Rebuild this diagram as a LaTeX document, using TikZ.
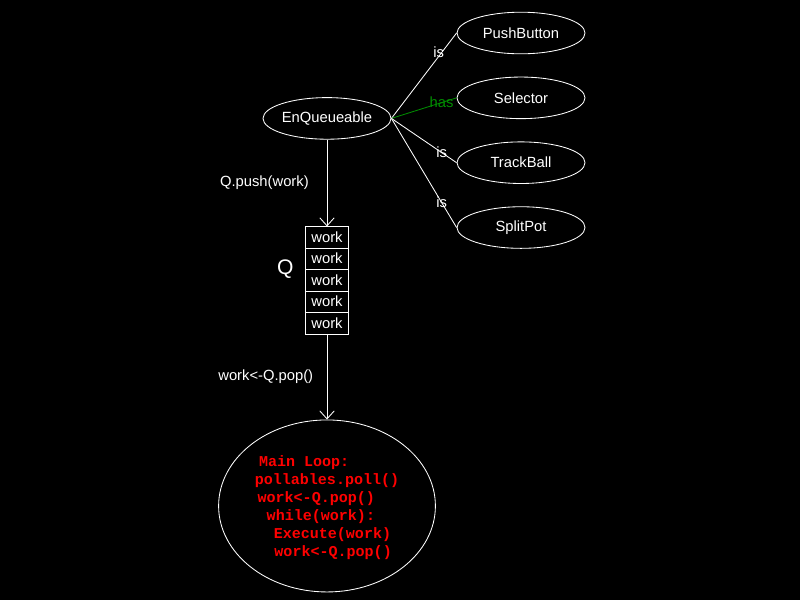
\documentclass[tikz,border=0pt]{standalone}
\usepackage{fontspec}
\usepackage{tikz}
\usetikzlibrary{arrows.meta,positioning,shapes.geometric}
\newfontfamily\labelfont{Liberation Sans}
\newfontfamily\codefont{Liberation Mono}
\definecolor{relgreen}{RGB}{0,140,0}
\definecolor{codered}{RGB}{255,0,0}

\begin{document}
\begin{tikzpicture}[
  line width=0.6pt,
  entity/.style={draw=white,ellipse,minimum width=3.2cm,minimum height=1.04cm,
    inner sep=0pt,text=white,font=\labelfont\fontsize{10.5}{12}\selectfont},
  cell/.style={draw=white,minimum width=1.075cm,minimum height=0.5375cm,
    inner sep=0pt,outer sep=0pt,text=white,font=\labelfont\fontsize{10.5}{12}\selectfont},
  link/.style={draw=white},
  flow/.style={-{Straight Barb[length=2mm,width=3.6mm]},draw=white},
  rel/.style={pos=0.77,inner sep=0pt,text=white,font=\labelfont\fontsize{10.5}{12}\selectfont},
  note/.style={text=white,font=\labelfont\fontsize{10.5}{12}\selectfont}
]
\fill[black] (0,0) rectangle (20,-15);
\useasboundingbox (0,0) rectangle (20,-15);

\node[entity] (enq) at (8.175,-2.96) {EnQueueable};
\node[entity] (push) at (13.025,-0.825) {PushButton};
\node[entity,below=0.56cm of push] (selector) {Selector};
\node[entity,below=0.56cm of selector] (track) {TrackBall};
\node[entity,below=0.56cm of track] (split) {SplitPot};

\draw[link] (enq.east) -- node[rel,xshift=-2pt] {is} (push.west);
\draw[relgreen] (enq.east) -- node[rel,text=relgreen] {has} (selector.west);
\draw[link] (enq.east) -- node[rel] {is} (track.west);
\draw[link] (enq.east) -- node[rel] {is} (split.west);

% the queue
\node[cell,below=2.17cm of enq] (cell1) {work};
\node[cell,below=0pt of cell1] (cell2) {work};
\node[cell,below=0pt of cell2] (cell3) {work};
\node[cell,below=0pt of cell3] (cell4) {work};
\node[cell,below=0pt of cell4] (cell5) {work};
\node[text=white,font=\labelfont\fontsize{15}{17}\selectfont,left=0.17cm of cell2.south west,anchor=east] (qname) {Q};

\draw[flow] (enq.south) -- node[note,midway,left=0.33cm] (pushlbl) {Q.push(work)} (cell1.north);

\node[draw=white,ellipse,minimum width=5.42cm,minimum height=4.3cm,inner sep=0pt,
  below=2.14cm of cell5] (mainloop) {};
\draw[flow] (cell5.south) -- node[note,midway,left=0.22cm] (poplbl) {work<-Q.pop()} (mainloop.north);

\node[text=codered,align=left,inner sep=0pt,
  font=\codefont\bfseries\fontsize{10.7}{12.8}\selectfont] (loopcode) at ([xshift=0pt,yshift=-1pt]mainloop.center)
  {\hspace*{3pt}Main Loop:\\
   pollables.poll()\\
   \hspace*{2pt}work<-Q.pop()\\
   \hspace*{8.5pt}while(work):\\
   \hspace*{13.5pt}Execute(work)\\
   \hspace*{14pt}work<-Q.pop()};
\end{tikzpicture}
\end{document}
